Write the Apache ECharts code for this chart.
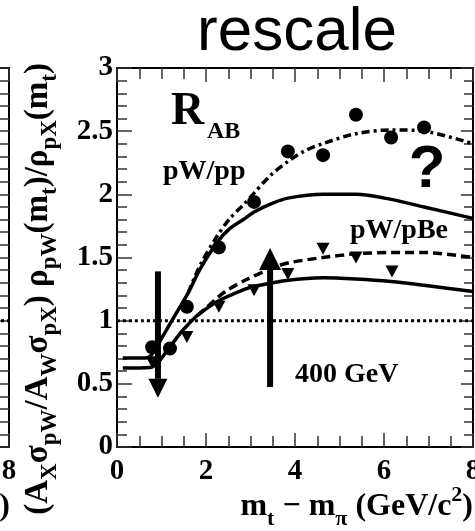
<!DOCTYPE html>
<html><head><meta charset="utf-8">
<script src="https://cdn.jsdelivr.net/npm/echarts@6/dist/echarts.min.js"></script>
<style>html,body{margin:0;padding:0;background:#fff}#c{width:475px;height:531px}</style>
</head><body><div id="c"></div>
<script>
// ---------- data ----------
const xTicks = [0, 2, 4, 6, 8];
const yTicks = [0, 0.5, 1, 1.5, 2, 2.5, 3];

// pW/pp data (circles)
const ppDataX = [0.79, 1.19, 1.57, 2.29, 3.08, 3.84, 4.63, 5.37, 6.16, 6.90];
const ppDataY = [0.79, 0.78, 1.11, 1.58, 1.94, 2.34, 2.31, 2.63, 2.45, 2.53];
// pW/pBe data (down triangles)
const pBeDataX = [0.79, 1.57, 2.29, 3.08, 3.84, 4.63, 5.37, 6.18];
const pBeDataY = [0.67, 0.87, 1.11, 1.24, 1.37, 1.57, 1.50, 1.39];

// pW/pp theory (solid)
const ppTheoryX = [0.13, 0.65, 0.8, 1.0, 1.2, 1.4, 1.6, 1.87, 2.25, 2.54, 2.88, 3.08, 3.5, 3.84, 4.63, 5.37, 6.16, 6.9, 8];
const ppTheoryY = [0.705, 0.705, 0.74, 0.86, 0.98, 1.10, 1.22, 1.41, 1.62, 1.73, 1.81, 1.86, 1.93, 1.97, 2.00, 2.00, 1.96, 1.90, 1.81];
// pW/pp fit (dash-dot)
const ppFitX = [1.6, 1.87, 2.25, 2.54, 2.85, 3.08, 3.45, 3.84, 4.2, 4.61, 5.37, 6.16, 6.9, 8];
const ppFitY = [1.22, 1.44, 1.67, 1.81, 1.92, 2.01, 2.15, 2.26, 2.34, 2.40, 2.48, 2.51, 2.50, 2.40];
// pW/pBe theory (solid)
const pBeTheoryX = [0.13, 0.75, 0.9, 1.12, 1.42, 1.6, 1.8, 2.25, 2.88, 3.08, 3.84, 4.63, 5.37, 6.16, 6.9, 8];
const pBeTheoryY = [0.625, 0.63, 0.66, 0.76, 0.90, 0.97, 1.04, 1.15, 1.25, 1.27, 1.32, 1.34, 1.33, 1.31, 1.28, 1.23];
// pW/pBe fit (dashed)
const pBeFitX = [1.8, 2.0, 2.25, 2.47, 2.88, 3.51, 3.89, 4.63, 5.39, 6.18, 6.88, 8];
const pBeFitY = [1.04, 1.10, 1.18, 1.24, 1.32, 1.42, 1.46, 1.50, 1.53, 1.54, 1.54, 1.50];

// unity reference
const unityX = [0, 8];
const unityY = [1, 1];

// arrows: x, from, to(tip)
const arrowX = [0.92, 3.44];
const arrowFrom = [1.39, 0.475];
const arrowTo = [0.39, 1.575];

// ---------- helpers ----------
const zip = (xs, ys) => xs.map((x, i) => [x, ys[i]]);
const SERIF = '"Liberation Serif","Times New Roman",serif';
const SANS = '"Liberation Sans",Arial,sans-serif';
const tickStyle = { color: '#333', width: 1.5 };
const xMin = xTicks[0], xMax = xTicks[xTicks.length - 1], xInt = xTicks[1] - xTicks[0];
const yMin = yTicks[0], yMax = yTicks[yTicks.length - 1], yInt = yTicks[1] - yTicks[0];

function xAx(gridIndex, position, showLabel, majLen, minLen) {
  return {
    type: 'value', gridIndex, position, min: xMin, max: xMax, interval: xInt,
    axisLine: { show: true, onZero: false, lineStyle: { color: '#000', width: 2 } },
    axisTick: { show: true, inside: true, length: majLen, lineStyle: tickStyle },
    minorTick: { show: true, splitNumber: 4, length: minLen, lineStyle: tickStyle },
    axisLabel: { show: showLabel, margin: 10, color: '#000', fontFamily: SERIF, fontWeight: 'bold', fontSize: 29 },
    splitLine: { show: false }, minorSplitLine: { show: false }
  };
}
function yAx(gridIndex, position, showLabel, majLen, minLen) {
  return {
    type: 'value', gridIndex, position, min: yMin, max: yMax, interval: yInt,
    axisLine: { show: true, onZero: false, lineStyle: { color: '#000', width: 2 } },
    axisTick: { show: true, inside: true, length: majLen, lineStyle: tickStyle },
    minorTick: { show: true, splitNumber: 5, length: minLen, lineStyle: tickStyle },
    axisLabel: { show: showLabel, margin: 4, color: '#000', fontFamily: SERIF, fontWeight: 'bold', fontSize: 29 },
    splitLine: { show: false }, minorSplitLine: { show: false }
  };
}
function lineSeries(xs, ys, type, width, z) {
  return {
    type: 'line', xAxisIndex: 0, yAxisIndex: 0, data: zip(xs, ys),
    showSymbol: false, symbol: 'none', smooth: 0.3, silent: true, z: z || 3,
    lineStyle: { color: '#000', width: width, type: type, cap: 'butt' }
  };
}

const titleRich = {
  b: { fontFamily: SERIF, fontWeight: 'bold', fontSize: 32, lineHeight: 46, verticalAlign: 'middle' },
  s: { fontFamily: SERIF, fontWeight: 'bold', fontSize: 22, lineHeight: 22, verticalAlign: 'bottom' },
  p: { fontFamily: SERIF, fontWeight: 'bold', fontSize: 22, lineHeight: 36, verticalAlign: 'top' }
};
const yTitleRich = {
  b: { fontFamily: SERIF, fontWeight: 'bold', fontSize: 33, lineHeight: 47, verticalAlign: 'middle' },
  s: { fontFamily: SERIF, fontWeight: 'bold', fontSize: 23, lineHeight: 23, verticalAlign: 'bottom' }
};
const xTitle = '{b|m}{s|t}{b| \u2212 m}{s|\u03c0}{b| (GeV/c}{p|2}{b|)}';
const yTitle = '{b|(A}{s|X}{b|\u03c3}{s|pW}{b|/A}{s|W}{b|\u03c3}{s|pX}{b|) \u03c1}{s|pW}{b|(m}{s|t}{b|)/\u03c1}{s|pX}{b|(m}{s|t}{b|)}';

function txt(x, y, text, font, align, vAlign) {
  return {
    type: 'text', x, y, z: 10,
    style: { text, font, fill: '#000', align, textAlign: align, verticalAlign: vAlign, textVerticalAlign: vAlign }
  };
}
function richTxt(x, y, text, rich, align, rotation) {
  return {
    type: 'text', x, y, rotation: rotation || 0, z: 10,
    style: { text, rich, fill: '#000', align, textAlign: align, verticalAlign: 'middle', textVerticalAlign: 'middle' }
  };
}

const chart = echarts.init(document.getElementById('c'), null, { renderer: 'canvas' });
chart.setOption({
  animation: false,
  backgroundColor: '#fff',
  grid: [
    { left: 117, top: 68, width: 356, height: 379, containLabel: false, outerBoundsMode: 'none' },
    { left: -347, top: 68, width: 356, height: 379, containLabel: false, outerBoundsMode: 'none' }
  ],
  xAxis: [
    xAx(0, 'bottom', true, 14, 11),
    xAx(0, 'top', false, 14, 11),
    xAx(1, 'bottom', true, 14, 11),
    xAx(1, 'top', false, 14, 11)
  ],
  yAxis: [
    yAx(0, 'left', true, 15, 10),
    yAx(0, 'right', false, 12, 9),
    yAx(1, 'left', false, 15, 10),
    yAx(1, 'right', false, 12, 10)
  ],
  series: [
    lineSeries(unityX, unityY, [3, 3], 3, 2),
    lineSeries(ppTheoryX, ppTheoryY, 'solid', 3.5),
    lineSeries(ppFitX, ppFitY, [8, 4, 3, 4], 3.5),
    lineSeries(pBeTheoryX, pBeTheoryY, 'solid', 3.5),
    lineSeries(pBeFitX, pBeFitY, [9, 5], 3.5),
    {
      type: 'scatter', xAxisIndex: 0, yAxisIndex: 0, data: zip(pBeDataX, pBeDataY),
      symbol: 'triangle', symbolRotate: 180, symbolSize: [13, 12], itemStyle: { color: '#000', opacity: 1 }, z: 4, silent: true
    },
    {
      type: 'scatter', xAxisIndex: 0, yAxisIndex: 0, data: zip(ppDataX, ppDataY),
      symbol: 'circle', symbolSize: 14, itemStyle: { color: '#000', opacity: 1 }, z: 5, silent: true
    },
    {
      type: 'custom', xAxisIndex: 0, yAxisIndex: 0, z: 6, silent: true,
      data: arrowX.map((x, i) => [x, arrowFrom[i], arrowTo[i]]),
      renderItem: function (params, api) {
        const p0 = api.coord([api.value(0), api.value(1)]);
        const p1 = api.coord([api.value(0), api.value(2)]);
        const dir = p1[1] > p0[1] ? 1 : -1;
        const head = params.dataIndex === 0 ? 19 : 22;
        const shaftW = 6;
        const baseY = p1[1] - dir * head;
        return {
          type: 'group', children: [
            { type: 'rect', shape: { x: p0[0] - shaftW / 2, y: Math.min(p0[1], baseY), width: shaftW, height: Math.abs(baseY - p0[1]) }, style: { fill: '#000' } },
            { type: 'polygon', shape: { points: [[p1[0], p1[1]], [p1[0] - head / 2, baseY], [p1[0] + head / 2, baseY]] }, style: { fill: '#000' } }
          ]
        };
      }
    },
    {
      type: 'line', xAxisIndex: 2, yAxisIndex: 2, data: zip(unityX, unityY),
      showSymbol: false, symbol: 'none', silent: true,
      lineStyle: { color: '#000', width: 3, type: [3, 3] }
    }
  ],
  graphic: [
    txt(297, 33, 'rescale', '62px ' + SANS, 'center', 'middle'),
    txt(171, 112, 'R', 'bold 46px ' + SERIF, 'left', 'middle'),
    txt(207, 132, 'AB', 'bold 24px ' + SERIF, 'left', 'middle'),
    txt(163, 172, 'pW/pp', 'bold 28px ' + SERIF, 'left', 'middle'),
    txt(350, 231, 'pW/pBe', 'bold 28px ' + SERIF, 'left', 'middle'),
    txt(295, 375, '400 GeV', 'bold 28px ' + SERIF, 'left', 'middle'),
    txt(427, 170, '?', 'bold 60px ' + SANS, 'center', 'middle'),
    richTxt(473, 507, xTitle, titleRich, 'right', 0),
    richTxt(10, 507, xTitle, titleRich, 'right', 0),
    richTxt(38, 63, yTitle, yTitleRich, 'right', Math.PI / 2)
  ]
});
</script>
</body></html>
